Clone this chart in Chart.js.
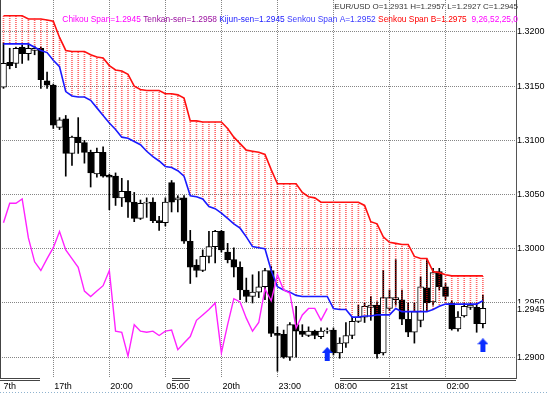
<!DOCTYPE html>
<html>
<head>
<meta charset="utf-8">
<script src="https://cdn.jsdelivr.net/npm/chart.js@4.4.0/dist/chart.umd.min.js"></script>
<style>
  html, body { margin: 0; padding: 0; background: #fff; }
  canvas { display: block; }
</style>
</head>
<body>
<canvas id="c" width="549" height="394"></canvas>
<script>
// EUR/USD hourly bars, oldest first
var OPEN = [
  1.3149, 1.3172, 1.3171, 1.3186, 1.3180, 1.3183, 1.3185, 1.3155, 1.3151, 1.3112,
  1.3120, 1.3088, 1.3103, 1.3098, 1.3089, 1.3069, 1.3089, 1.3068, 1.3067, 1.3047,
  1.3053, 1.3043, 1.3028, 1.3042, 1.3043, 1.3026, 1.3024, 1.3061, 1.3045, 1.3047,
  1.3007, 1.2985, 1.2980, 1.2993, 1.3002, 1.3016, 1.2997, 1.2990, 1.2983, 1.2962,
  1.2956, 1.2960, 1.2965, 1.2980, 1.2922, 1.2921, 1.2900, 1.2930, 1.2924, 1.2920,
  1.2924, 1.2919, 1.2924, 1.2925, 1.2904, 1.2913, 1.2920, 1.2933, 1.2937, 1.2946,
  1.2948, 1.2904, 1.2945, 1.2953, 1.2953, 1.2935, 1.2923, 1.2934, 1.2964, 1.2951,
  1.2979, 1.2965, 1.2950, 1.2926, 1.2938, 1.2946, 1.2946, 1.2931
];
var HIGH = [
  1.3190, 1.3185, 1.3186, 1.3188, 1.3189, 1.3187, 1.3186, 1.3163, 1.3152, 1.3121,
  1.3123, 1.3104, 1.3121, 1.3100, 1.3091, 1.3093, 1.3094, 1.3069, 1.3070, 1.3065,
  1.3063, 1.3052, 1.3045, 1.3047, 1.3047, 1.3030, 1.3047, 1.3063, 1.3049, 1.3049,
  1.3017, 1.2990, 1.2999, 1.3016, 1.3017, 1.3017, 1.3005, 1.3001, 1.2988, 1.2973,
  1.2976, 1.2979, 1.2982, 1.2984, 1.2928, 1.2925, 1.2932, 1.2947, 1.2930, 1.2928,
  1.2925, 1.2927, 1.2927, 1.2927, 1.2918, 1.2932, 1.2937, 1.2948, 1.2950, 1.2956,
  1.2951, 1.2980, 1.2962, 1.2990, 1.2962, 1.2950, 1.2950, 1.2974, 1.2990, 1.2982,
  1.2982, 1.2968, 1.2952, 1.2942, 1.2950, 1.2950, 1.2950, 1.2957
];
var LOW = [
  1.3148, 1.3166, 1.3167, 1.3171, 1.3174, 1.3179, 1.3148, 1.3148, 1.3111, 1.3110,
  1.3067, 1.3077, 1.3088, 1.3079, 1.3057, 1.3066, 1.3066, 1.3036, 1.3040, 1.3039,
  1.3029, 1.3025, 1.3027, 1.3029, 1.3024, 1.3017, 1.3021, 1.3034, 1.3034, 1.3005,
  1.2968, 1.2974, 1.2979, 1.2987, 1.2987, 1.2997, 1.2987, 1.2974, 1.2953, 1.2951,
  1.2950, 1.2955, 1.2953, 1.2919, 1.2887, 1.2899, 1.2897, 1.2900, 1.2919, 1.2919,
  1.2917, 1.2917, 1.2922, 1.2902, 1.2899, 1.2909, 1.2917, 1.2932, 1.2932, 1.2934,
  1.2899, 1.2902, 1.2943, 1.2948, 1.2930, 1.2919, 1.2913, 1.2928, 1.2943, 1.2948,
  1.2962, 1.2953, 1.2925, 1.2924, 1.2937, 1.2944, 1.2923, 1.2927
];
var CLOSE = [
  1.3171, 1.3169, 1.3185, 1.3180, 1.3185, 1.3185, 1.3156, 1.3151, 1.3114, 1.3119,
  1.3088, 1.3103, 1.3098, 1.3089, 1.3070, 1.3089, 1.3067, 1.3066, 1.3047, 1.3053,
  1.3043, 1.3028, 1.3042, 1.3043, 1.3026, 1.3024, 1.3043, 1.3043, 1.3047, 1.3007,
  1.2983, 1.2980, 1.2993, 1.3002, 1.3016, 1.2999, 1.2990, 1.2983, 1.2962, 1.2956,
  1.2960, 1.2965, 1.2980, 1.2922, 1.2920, 1.2900, 1.2930, 1.2924, 1.2921, 1.2924,
  1.2920, 1.2924, 1.2925, 1.2904, 1.2913, 1.2920, 1.2933, 1.2937, 1.2947, 1.2948,
  1.2903, 1.2955, 1.2955, 1.2955, 1.2935, 1.2923, 1.2942, 1.2965, 1.2950, 1.2978,
  1.2965, 1.2956, 1.2926, 1.2937, 1.2947, 1.2948, 1.2931, 1.2945
];

// cloud edges
var SENKOU_A = [
  1.3189, 1.3189, 1.3189, 1.3189, 1.3189, 1.3186, 1.3183, 1.3181, 1.3174, 1.3168,
  1.3145, 1.3141, 1.3140, 1.3140, 1.3137, 1.3130, 1.3123, 1.3116, 1.3110, 1.3103,
  1.3102, 1.3099, 1.3096, 1.3090, 1.3085, 1.3081, 1.3076, 1.3075, 1.3072, 1.3067,
  1.3049, 1.3048, 1.3046, 1.3039, 1.3037, 1.3033, 1.3028, 1.3023, 1.3019, 1.3011,
  1.3002, 1.3001, 1.3000, 1.2980, 1.2965, 1.2962, 1.2960, 1.2957, 1.2956, 1.2956,
  1.2956, 1.2956, 1.2956, 1.2945, 1.2944, 1.2944, 1.2937, 1.2937, 1.2938, 1.2938,
  1.2939, 1.2939, 1.2939, 1.2945, 1.2942, 1.2942, 1.2942, 1.2942, 1.2942, 1.2944,
  1.2947, 1.2949, 1.2949, 1.2949, 1.2949, 1.2949, 1.2949, 1.2952
];
var SENKOU_B = [
  1.3215, 1.3215, 1.3215, 1.3215, 1.3212, 1.3212, 1.3212, 1.3211, 1.3210, 1.3195,
  1.3183, 1.3182, 1.3182, 1.3182, 1.3179, 1.3177, 1.3176, 1.3169, 1.3165, 1.3164,
  1.3161, 1.3150, 1.3147, 1.3146, 1.3146, 1.3146, 1.3143, 1.3143, 1.3142, 1.3139,
  1.3118, 1.3118, 1.3117, 1.3117, 1.3117, 1.3117, 1.3111, 1.3103, 1.3097, 1.3091,
  1.3090, 1.3089, 1.3087, 1.3073, 1.3060, 1.3060, 1.3060, 1.3060, 1.3052, 1.3048,
  1.3047, 1.3043, 1.3043, 1.3043, 1.3043, 1.3043, 1.3043, 1.3043, 1.3040, 1.3025,
  1.3023, 1.3011, 1.3006, 1.3005, 1.3004, 1.3004, 1.2993, 1.2991, 1.2991, 1.2979,
  1.2978, 1.2976, 1.2975, 1.2975, 1.2975, 1.2975, 1.2975, 1.2975
];
// lagging span, bars 0..52
var CHIKOU = [
  1.3024, 1.3042, 1.3042, 1.3046, 1.3010, 1.2988, 1.2980, 1.2991, 1.3001, 1.3016,
  1.2999, 1.2991, 1.2983, 1.2961, 1.2956, 1.2961, 1.2966, 1.2980, 1.2924, 1.2923,
  1.2901, 1.2930, 1.2924, 1.2923, 1.2924, 1.2920, 1.2924, 1.2925, 1.2907, 1.2913,
  1.2919, 1.2934, 1.2939, 1.2944, 1.2950, 1.2904, 1.2930, 1.2954, 1.2951, 1.2936,
  1.2924, 1.2932, 1.2963, 1.2952, 1.2976, 1.2962, 1.2959, 1.2927, 1.2939, 1.2945,
  1.2945, 1.2934, 1.2945
];

// first label is the tail of a date cut by the left edge
var TIME_TICKS = [-0.15, 8, 17, 26, 35, 44, 53, 62, 71];
var TIME_LABELS = ['7th', '17th', '20:00', '05:00', '20th', '23:00', '08:00', '21st', '02:00'];
var PRICE_TICKS = [1.2900, 1.2950, 1.3000, 1.3050, 1.3100, 1.3150, 1.3200];
var ARROW_BARS = [52, 77];
var ARROW_PRICES = [1.2903, 1.2911];

var LEGEND_TEXT = ['Chikou Span=1.2945 ', 'Tenkan-sen=1.2958 ', 'Kijun-sen=1.2945 ',
                   'Senkou Span A=1.2952 ', 'Senkou Span B=1.2975  ', '9,26,52,25,0'];
var LEGEND_COLORS = ['#ff00ff', '#9a10a0', '#2020ff', '#3a3aff', '#ff0000', '#ff00ff'];

var FONT = '"Liberation Sans", Arial, sans-serif';
var GRID = '#858585';

function ranges(a, b) {
  return a.map(function (v, i) { return {x: i, y: [v, b[i]]}; });
}
function points(vals) {
  return vals.map(function (v, i) { return {x: i, y: v}; });
}

/* red dotted hatch between the cloud edges */
function dotPattern(ctx) {
  var c = document.createElement('canvas');
  c.width = 1; c.height = 2;
  var g = c.getContext('2d');
  g.fillStyle = 'rgba(255,0,0,0.6)';
  g.fillRect(0, 0, 1, 1);
  return ctx.createPattern(c, 'repeat');
}

function arrowImage() {
  var c = document.createElement('canvas');
  c.width = 11; c.height = 14;
  var g = c.getContext('2d');
  g.fillStyle = '#0a2cff';
  g.beginPath();
  g.moveTo(5.5, 0); g.lineTo(11, 6); g.lineTo(0, 6);
  g.closePath();
  g.fill();
  g.fillRect(3, 6, 5, 8);
  return c;
}

var decor = {
  id: 'decor',
  afterDraw: function (chart) {
    var c = chart.ctx, a = chart.chartArea, ys = chart.scales.y;
    c.save();

    // left edge and bottom double rule
    c.strokeStyle = '#444';
    c.lineWidth = 1;
    c.beginPath();
    c.moveTo(0.5, a.top); c.lineTo(0.5, a.bottom);
    [[0, 40], [172, 190], [340, a.right]].forEach(function (s) {
      c.moveTo(s[0], a.bottom + 0.5); c.lineTo(s[1], a.bottom + 0.5);
      c.moveTo(s[0], a.bottom + 2.5); c.lineTo(s[1], a.bottom + 2.5);
    });
    c.stroke();
    c.strokeStyle = '#8fb3cf';
    c.setLineDash([1, 2]);
    c.beginPath();
    c.moveTo(0, 392.5); c.lineTo(549, 392.5);
    c.stroke();
    c.setLineDash([]);

    // current price tag
    var last = CLOSE[CLOSE.length - 1];
    var py = ys.getPixelForValue(last);
    c.fillStyle = '#fff';
    c.fillRect(a.right + 1, py - 5, 32, 12);
    c.fillStyle = '#000';
    c.font = '9px ' + FONT;
    c.textBaseline = 'middle';
    c.textAlign = 'left';
    c.fillText(last.toFixed(4), a.right + 1, py + 1);

    // header
    var n = OPEN.length - 1;
    var head = 'EUR/USD O=' + OPEN[n].toFixed(4) + ' H=' + HIGH[n].toFixed(4) +
               ' L=' + LOW[n].toFixed(4) + ' C=' + CLOSE[n].toFixed(4);
    c.font = '8px ' + FONT;
    c.textAlign = 'right';
    c.fillStyle = '#333';
    c.fillText(head, 518, 7);

    c.font = '8.4px ' + FONT;
    c.textAlign = 'left';
    var total = LEGEND_TEXT.reduce(function (w, t) { return w + c.measureText(t).width; }, 0);
    var x = 518 - total;
    LEGEND_TEXT.forEach(function (t, i) {
      c.fillStyle = LEGEND_COLORS[i];
      c.fillText(t, x, 20);
      x += c.measureText(t).width;
    });
    c.restore();
  }
};

var ctx = document.getElementById('c').getContext('2d');

new Chart(ctx, {
  type: 'bar',
  data: {
    datasets: [
      // wicks
      {
        data: ranges(LOW, HIGH),
        backgroundColor: '#000',
        barThickness: 1,
        grouped: false,
        order: 6
      },
      // bodies
      {
        data: ranges(OPEN, CLOSE),
        backgroundColor: OPEN.map(function (o, i) { return CLOSE[i] >= o ? '#fff' : '#000'; }),
        borderColor: '#000',
        borderWidth: 1,
        borderSkipped: false,
        barThickness: 6,
        minBarLength: 1,
        grouped: false,
        order: 5
      },
      // cloud hatch
      {
        data: ranges(SENKOU_A, SENKOU_B),
        backgroundColor: dotPattern(ctx),
        barThickness: 1,
        grouped: false,
        order: 4
      },
      {
        type: 'line',
        data: points(SENKOU_A),
        borderColor: '#1a1aff',
        borderWidth: 1.6,
        pointRadius: 0,
        tension: 0,
        order: 3
      },
      {
        type: 'line',
        data: points(SENKOU_B),
        borderColor: '#ff1010',
        borderWidth: 1.6,
        pointRadius: 0,
        tension: 0,
        order: 3
      },
      {
        type: 'line',
        data: points(CHIKOU),
        borderColor: '#ff22ff',
        borderWidth: 1.4,
        pointRadius: 0,
        tension: 0,
        order: 2
      },
      {
        type: 'line',
        data: ARROW_BARS.map(function (b, i) { return {x: b, y: ARROW_PRICES[i]}; }),
        showLine: false,
        pointStyle: arrowImage(),
        pointRadius: 6,
        order: 1
      }
    ]
  },
  options: {
    animation: false,
    responsive: false,
    devicePixelRatio: 1,
    layout: { padding: 0, autoPadding: false },
    plugins: { legend: { display: false }, tooltip: { enabled: false } },
    scales: {
      x: {
        type: 'linear',
        offset: false,
        min: -0.561,
        max: 82.32,
        afterBuildTicks: function (s) {
          s.ticks = TIME_TICKS.map(function (v) { return {value: v}; });
        },
        afterFit: function (s) { s.height = 16; s.paddingLeft = 0; s.paddingRight = 0; },
        ticks: {
          autoSkip: false,
          maxRotation: 0,
          align: 'start',
          padding: 3,
          labelOffset: 1,
          color: '#000',
          font: { family: FONT, size: 9 },
          callback: function (v, i) { return TIME_LABELS[i]; }
        },
        grid: {
          display: true,
          drawOnChartArea: true,
          lineWidth: 1,
          offset: false,
          drawTicks: false,
          color: function (c) { return c.index === 0 ? 'rgba(0,0,0,0)' : GRID; }
        },
        border: { display: false, dash: [1, 1] }
      },
      y: {
        position: 'right',
        min: 1.288081,
        max: 1.322952,
        afterBuildTicks: function (s) {
          s.ticks = PRICE_TICKS.map(function (v) { return {value: v}; });
        },
        afterFit: function (s) { s.width = 33; s.paddingTop = 0; s.paddingBottom = 0; },
        ticks: {
          padding: 1,
          color: '#000',
          font: { family: FONT, size: 9 },
          callback: function (v) { return v.toFixed(4); }
        },
        grid: { display: true, drawOnChartArea: true, lineWidth: 1, color: GRID, drawTicks: false },
        border: { display: true, color: '#555', dash: [1, 1] }
      }
    }
  },
  plugins: [decor]
});
</script>
</body>
</html>
